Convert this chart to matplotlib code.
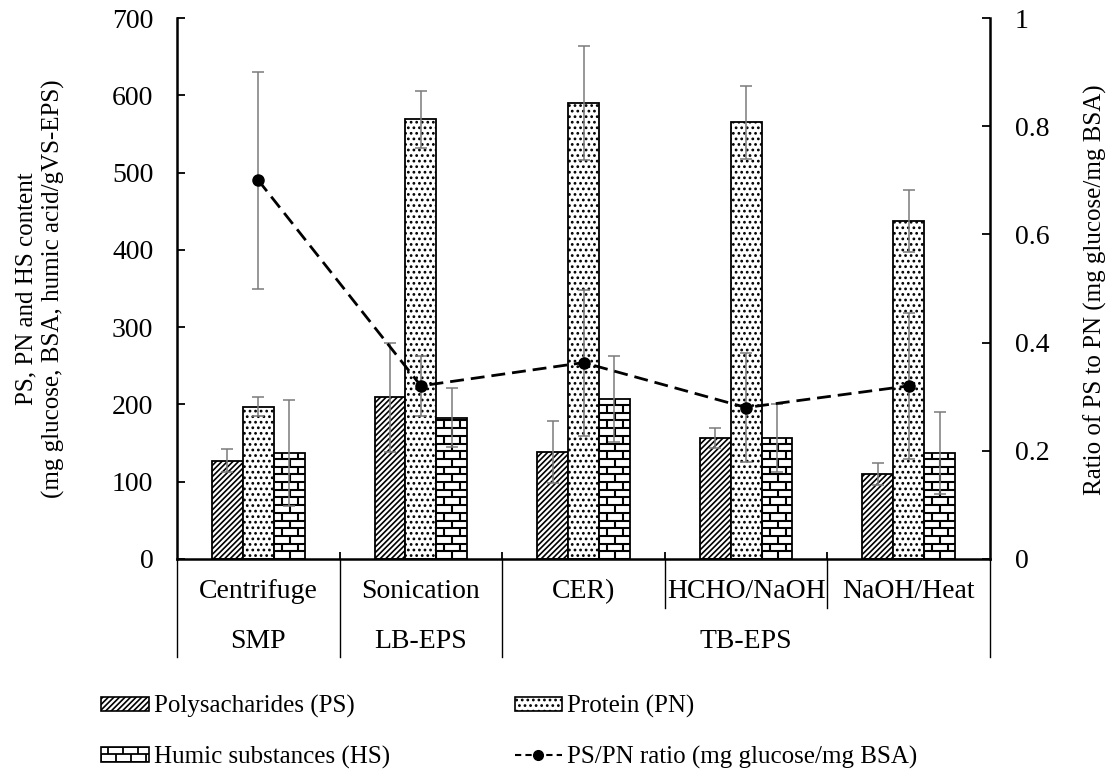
import numpy as np
import matplotlib
matplotlib.use('Agg')
import matplotlib.pyplot as plt
import matplotlib.transforms as mtransforms
from matplotlib.patches import Patch, Rectangle
from matplotlib.collections import LineCollection
from matplotlib.legend_handler import HandlerBase
from matplotlib.lines import Line2D

plt.rcParams['font.family'] = ['Liberation Serif', 'DejaVu Serif']
plt.rcParams['font.size'] = 18
plt.rcParams['hatch.linewidth'] = 1.2

methods = ['Centrifuge', 'Sonication', 'CER)', 'HCHO/NaOH', 'NaOH/Heat']
groups = ['SMP', 'LB-EPS', 'TB-EPS']
group_first = [0, 1, 2]
group_last = [0, 1, 4]

ps = [127, 209, 138, 157, 110]
ps_err = [15, 71, 40, 13, 14]
pn = [197, 569, 590, 565, 437]
pn_err = [12, 37, 74, 47, 40]
hs = [137, 183, 207, 156, 137]
hs_err = [69, 38, 56, 44, 53]
ratio = [0.70, 0.32, 0.363, 0.28, 0.32]
ratio_err = [0.20, 0.055, 0.135, 0.10, 0.135]

grey = '#7a7a7a'
err_kw = dict(ecolor=grey, elinewidth=1.1, capsize=4, capthick=1.1)


def brick_segments(x0, y0, w, h, dx, dy):
    # mortar lines of a running-bond brick wall covering the box
    segs = []
    nrows = int(np.ceil(h / dy)) + 1
    for k in range(nrows):
        yb = y0 + k * dy
        segs.append([(x0, yb), (x0 + w, yb)])
        off = (k % 2) * dx / 2
        xv = x0 + off
        while xv <= x0 + w:
            segs.append([(xv, yb), (xv, yb + dy)])
            xv += dx
    return segs


class HandlerBrick(HandlerBase):
    def create_artists(self, legend, orig_handle, xdescent, ydescent,
                       width, height, fontsize, trans):
        x0, y0 = -xdescent, -ydescent
        rect = Rectangle((x0, y0), width, height, facecolor='white',
                         edgecolor='black', lw=1.2, transform=trans)
        segs = brick_segments(x0, y0, width, height, width / 3.2, height / 2.0)
        lc = LineCollection(segs, colors='black', linewidths=1.3, transform=trans)
        lc.set_clip_path(rect)
        return [rect, lc]


fig = plt.figure(figsize=(11.12, 7.84), dpi=100)
ax = fig.add_axes([177 / 1112, 1 - 559 / 784, 813 / 1112, 541 / 784])

x = np.arange(len(methods))
w = 0.19
ax.set_xlim(-0.5, len(methods) - 0.5)
ax.set_ylim(0, 700)

bars_ps = ax.bar(x - w, ps, w, yerr=ps_err, facecolor='white', edgecolor='black',
                 hatch='//////', lw=1.3, error_kw=err_kw)
bars_pn = ax.bar(x, pn, w, yerr=pn_err, facecolor='white', edgecolor='black',
                 hatch='...', lw=1.3, error_kw=err_kw)
bars_hs = ax.bar(x + w, hs, w, yerr=hs_err, facecolor='white', edgecolor='black',
                 lw=1.3, error_kw=err_kw)

# brick fill for humic substances, sized in pixels
p0 = ax.transData.transform((0, 0))
p1 = ax.transData.transform((1, 100))
px_x = p1[0] - p0[0]
px_y = (p1[1] - p0[1]) / 100
for bar in bars_hs:
    segs = brick_segments(bar.get_x(), 0, bar.get_width(), bar.get_height(),
                          16 / px_x, 7.7 / px_y)
    lc = LineCollection(segs, colors='black', linewidths=1.5, zorder=bar.get_zorder())
    ax.add_collection(lc)
    lc.set_clip_path(bar)

ax.set_yticks(np.arange(0, 701, 100))
ax.tick_params(axis='y', direction='in', length=6, width=1.3, pad=17, labelsize=20)
ax.set_xticks(np.arange(0.5, len(methods) - 1, 1.0))
ax.set_xticklabels([])
ax.tick_params(axis='x', direction='in', length=5, width=1.3)
for s in ['top', 'right']:
    ax.spines[s].set_visible(False)
for s in ['left', 'bottom']:
    ax.spines[s].set_linewidth(1.8)

# two-level category axis
tr = mtransforms.blended_transform_factory(ax.transData, ax.transAxes)
row1 = (559 - 592) / 541
row2 = (559 - 642) / 541
sep1 = (559 - 608) / 541
sep2 = (559 - 657) / 541
for i, m in enumerate(methods):
    ax.text(i, row1, m, transform=tr, ha='center', va='center', fontsize=20)
for g, a, b in zip(groups, group_first, group_last):
    ax.text((a + b) / 2, row2, g, transform=tr, ha='center', va='center',
            fontsize=20)
bounds = [a - 0.5 for a in group_first] + [group_last[-1] + 0.5]
for i in range(len(methods) + 1):
    xb = i - 0.5
    bottom = sep2 if xb in bounds else sep1
    ax.plot([xb, xb], [0, bottom], transform=tr, color='black', lw=1.0,
            clip_on=False)

ax2 = ax.twinx()
ax2.set_ylim(0, 1)
ax2.errorbar(x, ratio, yerr=ratio_err, color='black', marker='o', markersize=8,
             ls='--', dashes=(5, 2.5), lw=2, **err_kw)
ax2.set_yticks(np.arange(0, 1.01, 0.2))
ax2.set_yticklabels(['0', '0.2', '0.4', '0.6', '0.8', '1'])
ax2.tick_params(axis='y', direction='in', length=6, width=1.3, pad=18, labelsize=20)
ax2.spines['top'].set_visible(False)
ax2.spines['left'].set_visible(False)
ax2.spines['bottom'].set_visible(False)
ax2.spines['right'].set_linewidth(1.8)

fig.text(40 / 1112, 1 - 289 / 784,
         'PS, PN and HS content\n(mg glucose, BSA, humic acid/gVS-EPS)',
         rotation=90, ha='center', va='center', multialignment='center',
         linespacing=1.25)
fig.text(1095 / 1112, 1 - 290 / 784, 'Ratio of PS to PN (mg glucose/mg BSA)',
         rotation=90, ha='center', va='center')

h_ps = Patch(facecolor='white', edgecolor='black', hatch='//////', lw=1.2)
h_pn = Patch(facecolor='white', edgecolor='black', hatch='...', lw=1.2)
h_hs = Patch(facecolor='white', edgecolor='black')
h_ratio = Line2D([], [], color='black', marker='o', markersize=7, ls='--',
                 dashes=(3, 2), lw=1.5)
fig.legend([h_ps, h_hs, h_pn, h_ratio],
           ['Polysacharides (PS)', 'Humic substances (HS)', 'Protein (PN)',
            'PS/PN ratio (mg glucose/mg BSA)'],
           handler_map={h_hs: HandlerBrick()},
           ncol=2, frameon=False, loc='upper left',
           bbox_to_anchor=(101 / 1112, 1 - 695 / 784),
           borderpad=0, borderaxespad=0, handlelength=1.9, handleheight=0.5,
           handletextpad=0.2, columnspacing=5.0, labelspacing=1.1)

fig.savefig('out.png', dpi=100)
